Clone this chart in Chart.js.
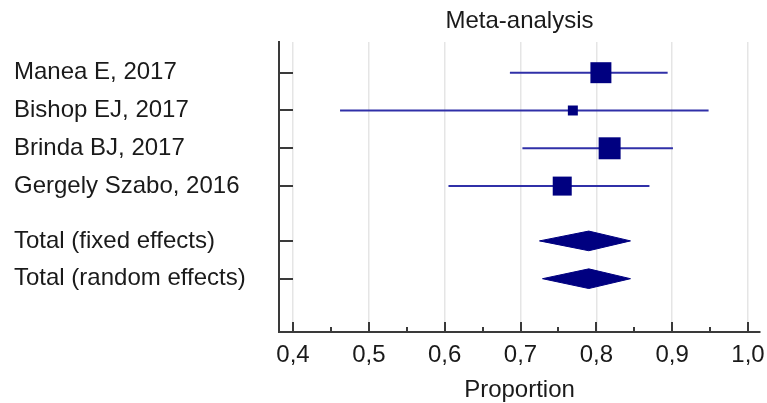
<!DOCTYPE html>
<html>
<head>
<meta charset="utf-8">
<script src="https://cdn.jsdelivr.net/npm/chart.js@4.4.1/dist/chart.umd.min.js"></script>
<style>
  html, body { margin: 0; padding: 0; background: #fff; }
</style>
</head>
<body>
<canvas id="forest" width="767" height="403"></canvas>
<script>
const studies = ['Manea E, 2017', 'Bishop EJ, 2017', 'Brinda BJ, 2017', 'Gergely Szabo, 2016'];
const estimate = [0.806, 0.769, 0.8175, 0.755];
const ciLow = [0.686, 0.462, 0.7025, 0.605];
const ciHigh = [0.894, 0.948, 0.901, 0.870];
const weights = [31.8, 7.2, 34.9, 26.1];

const totals = ['Total (fixed effects)', 'Total (random effects)'];
const totalEst = [0.790, 0.790];
const totalLow = [0.725, 0.729];
const totalHigh = [0.845, 0.845];

const xTicks = [0.4, 0.5, 0.6, 0.7, 0.8, 0.9, 1.0];

const navy = '#000080';
const lineColor = '#3030a8';
const axisColor = '#3a3a3a';
const textColor = '#1a1a1a';
const font = '"Liberation Sans", Arial, sans-serif';

// row positions: studies one per row, a gap before the totals
const studyRow = i => i;
const totalRow = j => studies.length + 0.45 + j;
const rows = studies.map((s, i) => studyRow(i)).concat(totals.map((t, j) => totalRow(j)));
const rowLabels = studies.concat(totals);

const ciSets = studies.map((s, i) => ({
    data: [{ x: ciLow[i], y: studyRow(i) }, { x: ciHigh[i], y: studyRow(i) }],
    showLine: true,
    borderColor: lineColor,
    borderWidth: 2,
    pointRadius: 0,
    order: 3
}));

const markerSet = {
    data: estimate.map((v, i) => ({ x: v, y: studyRow(i) })),
    pointStyle: 'rect',
    pointRadius: weights.map(w => 3.72 * Math.sqrt(w) / Math.SQRT2),
    backgroundColor: navy,
    borderColor: navy,
    borderWidth: 0,
    order: 1
};

const diamondSets = totals.map((t, j) => {
    const r = totalRow(j);
    const h = 0.26;
    return {
        data: [
            { x: totalLow[j], y: r },
            { x: totalEst[j], y: r - h },
            { x: totalHigh[j], y: r },
            { x: totalEst[j], y: r + h },
            { x: totalLow[j], y: r }
        ],
        showLine: true,
        fill: 'shape',
        tension: 0,
        backgroundColor: navy,
        borderColor: navy,
        borderWidth: 1,
        pointRadius: 0,
        order: 2
    };
});

// tick marks pointing into the plot, like the original
const innerTicks = {
    id: 'innerTicks',
    afterDraw(chart) {
        const { ctx, chartArea, scales: { x, y } } = chart;
        ctx.save();
        ctx.strokeStyle = axisColor;
        ctx.lineWidth = 2;
        ctx.beginPath();
        y.ticks.forEach(t => {
            const py = Math.round(y.getPixelForValue(t.value));
            ctx.moveTo(chartArea.left, py);
            ctx.lineTo(chartArea.left + 14, py);
        });
        x.ticks.forEach((t, i) => {
            const px = Math.round(x.getPixelForValue(t.value));
            ctx.moveTo(px, chartArea.bottom);
            ctx.lineTo(px, chartArea.bottom - 10);
            if (i < x.ticks.length - 1) {
                const mx = Math.round(x.getPixelForValue((t.value + x.ticks[i + 1].value) / 2));
                ctx.moveTo(mx, chartArea.bottom);
                ctx.lineTo(mx, chartArea.bottom - 5);
            }
        });
        ctx.stroke();
        ctx.restore();
    }
};

new Chart(document.getElementById('forest'), {
    type: 'scatter',
    data: { datasets: [markerSet, ...diamondSets, ...ciSets] },
    options: {
        responsive: false,
        animation: false,
        layout: { autoPadding: false, padding: { left: 14, right: 7, top: 0, bottom: 0 } },
        plugins: {
            legend: { display: false },
            tooltip: { enabled: false },
            title: {
                display: true,
                text: 'Meta-analysis',
                fullSize: false,
                color: textColor,
                font: { family: font, size: 24, weight: 'normal' },
                padding: { top: 7, bottom: 6.2 }
            }
        },
        scales: {
            x: {
                type: 'linear',
                min: 0.3815,
                max: 1.0158,
                afterBuildTicks: s => { s.ticks = xTicks.map(v => ({ value: v })); },
                afterFit: s => { s.height = 71; s.paddingLeft = 0; s.paddingRight = 0; },
                grid: { color: 'rgba(0,0,0,0.1)', lineWidth: 1.5, drawTicks: false, tickLength: 0 },
                border: { color: axisColor, width: 2 },
                ticks: {
                    padding: 9,
                    color: textColor,
                    font: { family: font, size: 24 },
                    callback: v => v.toFixed(1).replace('.', ',')
                },
                title: {
                    display: true,
                    text: 'Proportion',
                    color: textColor,
                    font: { family: font, size: 24, lineHeight: 1 },
                    padding: { top: 0, bottom: 1 }
                }
            },
            y: {
                type: 'linear',
                reverse: true,
                min: -0.812,
                max: 6.86,
                afterBuildTicks: s => { s.ticks = rows.map(v => ({ value: v })); },
                afterFit: s => { s.width = 265; s.paddingTop = 0; s.paddingBottom = 0; },
                grid: { display: false },
                border: { color: axisColor, width: 2 },
                ticks: {
                    crossAlign: 'far',
                    color: textColor,
                    font: { family: font, size: 24 },
                    callback: (v, i) => rowLabels[i]
                }
            }
        }
    },
    plugins: [innerTicks]
});
</script>
</body>
</html>
